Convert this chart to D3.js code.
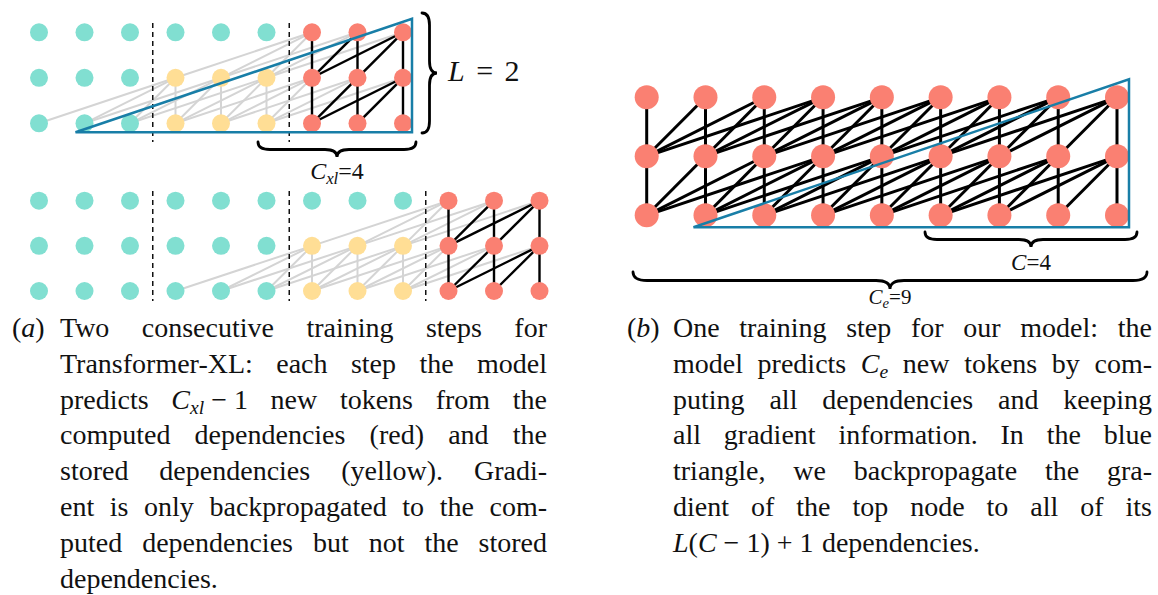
<!DOCTYPE html>
<html>
<head>
<meta charset="utf-8">
<script src="https://cdn.jsdelivr.net/npm/d3@7"></script>
<style>
  html, body { margin: 0; padding: 0; background: #fff; }
  text { white-space: pre; font-family: "Liberation Serif", "DejaVu Serif", serif; }
</style>
</head>
<body>
<svg id="fig" width="1158" height="595"></svg>
<script>
// token kind per column: c = old context, s = stored memory, n = newly computed
const stepOneKinds = ["c", "c", "c", "s", "s", "s", "n", "n", "n"];
const stepTwoKinds = ["c", "c", "c", "c", "c", "c", "s", "s", "s", "n", "n", "n"];
const oursKinds = ["n", "n", "n", "n", "n", "n", "n", "n", "n"];
const numLayers = 3;   // inputs + L = 2 layers
const windowSize = 4;  // C
const stepOneSeparators = [2.5, 5.5];
const stepTwoSeparators = [2.5, 5.5, 8.5];

const labelL = "{i:L}~=~2";
const labelCxl = "{i:C}{s:xl}=4";
const labelC = "{i:C}=4";
const labelCe = "{i:C}{s:e}=9";

const captionA = [
  "Two consecutive training steps for",
  "Transformer-XL: each step the model",
  "predicts {i:C}{s:xl}~−~1 new tokens from the",
  "computed dependencies (red) and the",
  "stored dependencies (yellow). Gradi-",
  "ent is only backpropagated to the com-",
  "puted dependencies but not the stored",
  "dependencies."
];
const captionB = [
  "One training step for our model: the",
  "model predicts {i:C}{s:e} new tokens by com-",
  "puting all dependencies and keeping",
  "all gradient information. In the blue",
  "triangle, we backpropagate the gra-",
  "dient of the top node to all of its",
  "{i:L}({i:C}~−~1)~+~1 dependencies."
];

const colors = { c: "#81dfd1", s: "#ffde95", n: "#fa8072" };
const grey = "#d4d4d4";
const blue = "#187ea7";
const serif = '"Liberation Serif", "DejaVu Serif", serif';

const svg = d3.select("#fig");

// scales
const xA = d3.scaleLinear().domain([0, 11]).range([39, 539.5]);
const yA1 = d3.scaleLinear().domain([0, 2]).range([123.3, 32.3]);
const yA2 = d3.scaleLinear().domain([0, 2]).range([291, 200.7]);
const xB = d3.scaleLinear().domain([0, 8]).range([646.7, 1117]);
const yB = d3.scaleLinear().domain([0, 2]).range([215.3, 97.3]);

const isActive = (k, l) => k === "n" || (k === "s" && l < numLayers - 1);
const nodeColor = (k, l) => isActive(k, l) ? colors[k] : colors.c;

function buildEdges(kinds) {
  const out = [];
  kinds.forEach((k, t) => {
    for (let l = 1; l < numLayers; l++) {
      if (!isActive(k, l)) continue;
      for (let j = 0; j < windowSize && t - j >= 0; j++) {
        const s = t - j;
        out.push({ t, l, s, dark: k === "n" && kinds[s] === "n" });
      }
    }
  });
  return out;
}

function drawGrid(kinds, x, y, r, darkWidth, separators, dashTop, dashBottom) {
  const g = svg.append("g");
  const edges = buildEdges(kinds);
  const nodes = [];
  kinds.forEach((k, t) => d3.range(numLayers).forEach(l => nodes.push({ k, t, l })));

  g.selectAll("line.grey").data(edges.filter(e => !e.dark)).join("line")
    .attr("x1", d => x(d.t)).attr("y1", d => y(d.l))
    .attr("x2", d => x(d.s)).attr("y2", d => y(d.l - 1))
    .attr("stroke", grey).attr("stroke-width", 2);

  g.selectAll("line.sep").data(separators).join("line")
    .attr("x1", d => x(d)).attr("x2", d => x(d))
    .attr("y1", dashTop).attr("y2", dashBottom)
    .attr("stroke", "#111").attr("stroke-width", 1.5)
    .attr("stroke-dasharray", "5,4");

  g.selectAll("line.dark").data(edges.filter(e => e.dark)).join("line")
    .attr("x1", d => x(d.t)).attr("y1", d => y(d.l))
    .attr("x2", d => x(d.s)).attr("y2", d => y(d.l - 1))
    .attr("stroke", "#000").attr("stroke-width", darkWidth);

  g.selectAll("circle").data(nodes).join("circle")
    .attr("cx", d => x(d.t)).attr("cy", d => y(d.l)).attr("r", r)
    .attr("fill", d => nodeColor(d.k, d.l));
}

function drawTriangle(x, y, r, first, lastCol) {
  const pts = [
    [x(first) - r, y(0) + r],
    [x(lastCol) + r, y(0) + r],
    [x(lastCol) + r, y(numLayers - 1) - 1.5 * r]
  ];
  svg.append("path")
    .attr("d", "M" + pts.join("L") + "Z")
    .attr("fill", "none").attr("stroke", blue)
    .attr("stroke-width", 2.5).attr("stroke-linejoin", "miter");
}

// curly brace along local x (length len), bulging to +y by depth
function brace(transform, len, depth, curl) {
  const h = depth / 2, m = len / 2;
  const d = `M0,0 Q0,${h} ${curl},${h} L${m - curl},${h} Q${m},${h} ${m},${depth}` +
    ` Q${m},${h} ${m + curl},${h} L${len - curl},${h} Q${len},${h} ${len},0`;
  svg.append("path").attr("d", d).attr("transform", transform)
    .attr("fill", "none").attr("stroke", "#000").attr("stroke-width", 2.8)
    .attr("stroke-linecap", "round");
}

// small markup: {i:..} italic, {s:..} italic subscript, ~ = fixed space
function rich(sel, str, fs) {
  const re = /\{([is]):([^}]*)\}|([^{]+)/g;
  let m, shift = 0;
  sel.attr("font-family", serif).style("font-family", serif);
  str = str.replace(/~/g, " ");
  while ((m = re.exec(str))) {
    const ts = sel.append("tspan");
    if (m[1] === "s") {
      const d = fs * 0.2;
      ts.text(m[2]).attr("font-style", "italic").attr("font-size", fs * 0.7).attr("dy", d);
      shift += d;
    } else {
      ts.text(m[1] ? m[2] : m[3]);
      if (m[1] === "i") ts.attr("font-style", "italic");
      if (shift) { ts.attr("dy", -shift); shift = 0; }
    }
  }
  return sel;
}

function label(str, x, y, fs, anchor, wordSpacing) {
  const t = svg.append("text").attr("x", x).attr("y", y).attr("font-size", fs)
    .attr("text-anchor", anchor).attr("fill", "#111");
  if (wordSpacing) t.style("word-spacing", wordSpacing + "px");
  rich(t, str, fs);
}

function caption(tag, tagX, lines, x0, x1, y0, lh, fs) {
  const g = svg.append("g").attr("font-size", fs).attr("fill", "#111");
  rich(g.append("text").attr("x", tagX).attr("y", y0), tag, fs);
  lines.forEach((line, i) => {
    const y = y0 + i * lh;
    const words = line.split(" ");
    const els = words.map(w => rich(g.append("text").attr("y", y), w, fs));
    const widths = els.map(e => e.node().getComputedTextLength());
    const last = i === lines.length - 1;
    const gap = last || words.length < 2 ? fs * 0.3
      : (x1 - x0 - d3.sum(widths)) / (words.length - 1);
    let x = x0;
    els.forEach((e, j) => { e.attr("x", x); x += widths[j] + gap; });
  });
}

// panel (a)
drawGrid(stepOneKinds, xA, yA1, 9, 2.4, stepOneSeparators, 23, 142);
drawTriangle(xA, yA1, 9, 1, stepOneKinds.length - 1);
drawGrid(stepTwoKinds, xA, yA2, 9, 2.4, stepTwoSeparators, 191, 301);

brace(`translate(${xA(6) - 54},142)`, xA(8) + 13 - (xA(6) - 54), 15, 12);
label(labelCxl, (xA(6) - 54 + xA(8) + 13) / 2, 179, 24, "middle");
brace(`translate(422,133) rotate(-90)`, 120, 15, 12);
label(labelL, 448, 81, 30, "start", 4);

// panel (b)
drawGrid(oursKinds, xB, yB, 12, 3, [], 0, 0);
drawTriangle(xB, yB, 12, 1, oursKinds.length - 1);

brace(`translate(925,232)`, 212, 15, 12);
label(labelC, 1031, 270, 23, "middle");
brace(`translate(633,272)`, 514, 17, 14);
label(labelCe, 890, 304, 21, "middle");

// captions
caption("({i:a})", 12, captionA, 60, 547, 337, 35.8, 28);
caption("({i:b})", 627, captionB, 673, 1152, 337, 35.8, 28);
</script>
</body>
</html>
